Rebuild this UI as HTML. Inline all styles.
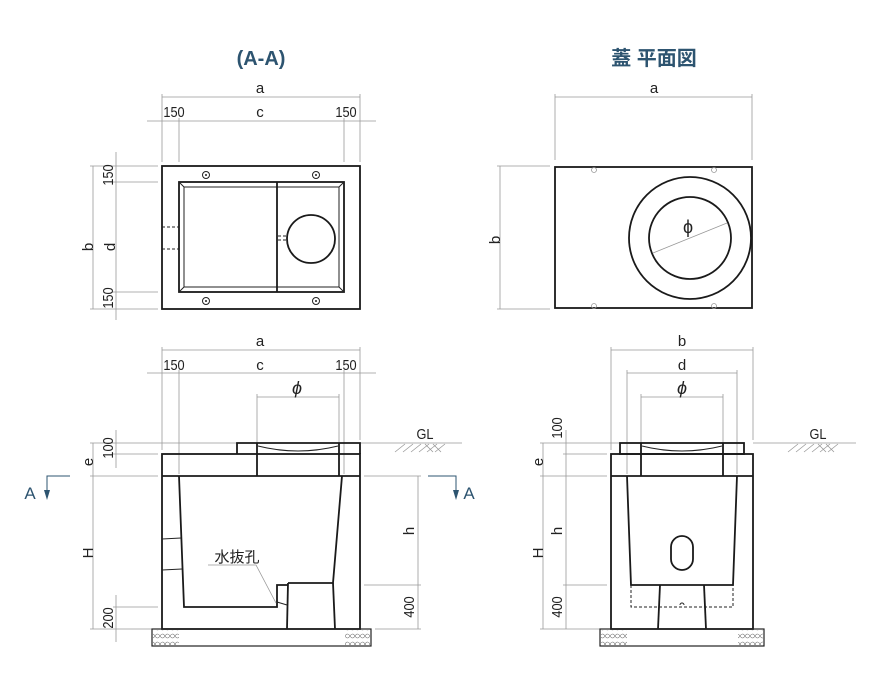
<!DOCTYPE html>
<html><head><meta charset="utf-8"><style>
body{margin:0;background:#fff}
svg{display:block}
text{font-family:"Liberation Sans","Noto Sans CJK JP",sans-serif;fill:#222}
.o{stroke:#1a1a1a;stroke-width:1.8;fill:none}
.t{stroke:#222;stroke-width:1;fill:none}
.d{stroke:#999;stroke-width:0.8;fill:none}
.ds{stroke:#222;stroke-width:1;fill:none;stroke-dasharray:3,2}
.l{font-size:15px}
.ti{font-size:20px;font-weight:bold;fill:#2d5470}
</style></head><body>
<svg width="880" height="680" viewBox="0 0 880 680" xmlns="http://www.w3.org/2000/svg">
<defs>
<pattern id="gr" width="10" height="8" patternUnits="userSpaceOnUse">
<path d="M0 4 Q2.5 0 5 4 Q7.5 8 10 4 M0 4 Q2.5 8 5 4 Q7.5 0 10 4" stroke="#666" stroke-width="0.6" fill="none"/>
</pattern>
</defs>
<text class="ti" x="261" y="65" text-anchor="middle">(A-A)</text>
<text class="ti" x="654" y="65" text-anchor="middle">蓋 平面図</text>

<!-- TOP LEFT -->
<g>
<line class="d" x1="162" y1="97" x2="360" y2="97"/>
<line class="d" x1="147" y1="121" x2="376" y2="121"/>
<line class="d" x1="162" y1="94" x2="162" y2="162"/>
<line class="d" x1="360" y1="94" x2="360" y2="162"/>
<line class="d" x1="179" y1="118" x2="179" y2="162"/>
<line class="d" x1="344" y1="118" x2="344" y2="162"/>
<text class="l" x="260" y="93" text-anchor="middle">a</text>
<text class="l" transform="translate(174,117) scale(0.85,1)" text-anchor="middle">150</text>
<text class="l" x="260" y="117" text-anchor="middle">c</text>
<text class="l" transform="translate(346,117) scale(0.85,1)" text-anchor="middle">150</text>
<line class="d" x1="93" y1="166" x2="93" y2="309"/>
<line class="d" x1="116" y1="152" x2="116" y2="320"/>
<line class="d" x1="90" y1="166" x2="158" y2="166"/>
<line class="d" x1="90" y1="309" x2="158" y2="309"/>
<line class="d" x1="113" y1="182" x2="158" y2="182"/>
<line class="d" x1="113" y1="292" x2="158" y2="292"/>
<text class="l" transform="translate(93,247) rotate(-90)" text-anchor="middle">b</text>
<text class="l" transform="translate(115,247) rotate(-90)" text-anchor="middle">d</text>
<text class="l" transform="translate(113,175) rotate(-90) scale(0.85,1)" text-anchor="middle">150</text>
<text class="l" transform="translate(113,298) rotate(-90) scale(0.85,1)" text-anchor="middle">150</text>
<rect class="o" x="162" y="166" width="198" height="143"/>
<rect class="o" x="179" y="182" width="165" height="110"/>
<rect class="t" x="184" y="187" width="155" height="100"/>
<line class="t" x1="179" y1="182" x2="184" y2="187"/><line class="t" x1="344" y1="182" x2="339" y2="187"/>
<line class="t" x1="179" y1="292" x2="184" y2="287"/><line class="t" x1="344" y1="292" x2="339" y2="287"/>
<line class="o" x1="277" y1="182" x2="277" y2="292" stroke-width="2"/>
<circle class="o" cx="311" cy="239" r="24"/>
<line class="ds" x1="162" y1="227" x2="179" y2="227"/><line class="ds" x1="162" y1="249" x2="179" y2="249"/>
<line class="ds" x1="278" y1="236" x2="287" y2="236"/><line class="ds" x1="278" y1="240" x2="287" y2="240"/>
<g class="t"><circle cx="206" cy="175" r="3.5"/><circle cx="316" cy="175" r="3.5"/><circle cx="206" cy="301" r="3.5"/><circle cx="316" cy="301" r="3.5"/></g>
<g fill="#222"><circle cx="206" cy="175" r="1"/><circle cx="316" cy="175" r="1"/><circle cx="206" cy="301" r="1"/><circle cx="316" cy="301" r="1"/></g>
</g>

<!-- TOP RIGHT -->
<g>
<line class="d" x1="555" y1="97" x2="752" y2="97"/>
<line class="d" x1="555" y1="94" x2="555" y2="160"/>
<line class="d" x1="752" y1="94" x2="752" y2="160"/>
<text class="l" x="654" y="93" text-anchor="middle">a</text>
<line class="d" x1="500" y1="166" x2="500" y2="309"/>
<line class="d" x1="497" y1="166" x2="550" y2="166"/>
<line class="d" x1="497" y1="309" x2="550" y2="309"/>
<text class="l" transform="translate(500,240) rotate(-90)" text-anchor="middle">b</text>
<rect class="o" x="555" y="167" width="197" height="141"/>
<circle class="o" cx="690" cy="238" r="61"/>
<circle class="o" cx="690" cy="238" r="41"/>
<line class="d" x1="653" y1="253" x2="727" y2="223"/>
<text x="688" y="233" text-anchor="middle" style="font-size:18px">ϕ</text>
<g class="d"><circle cx="594" cy="170" r="2.5"/><circle cx="714" cy="170" r="2.5"/><circle cx="594" cy="306" r="2.5"/><circle cx="714" cy="306" r="2.5"/></g>
</g>

<!-- BOTTOM LEFT -->
<g>
<line class="d" x1="162" y1="350" x2="360" y2="350"/>
<line class="d" x1="147" y1="373" x2="376" y2="373"/>
<line class="d" x1="257" y1="397" x2="339" y2="397"/>
<line class="d" x1="162" y1="347" x2="162" y2="450"/>
<line class="d" x1="360" y1="347" x2="360" y2="440"/>
<line class="d" x1="179" y1="370" x2="179" y2="474"/>
<line class="d" x1="344" y1="370" x2="344" y2="474"/>
<line class="d" x1="257" y1="394" x2="257" y2="443"/>
<line class="d" x1="339" y1="394" x2="339" y2="443"/>
<text class="l" x="260" y="346" text-anchor="middle">a</text>
<text class="l" transform="translate(174,370) scale(0.85,1)" text-anchor="middle">150</text>
<text class="l" x="260" y="370" text-anchor="middle">c</text>
<text class="l" transform="translate(346,370) scale(0.85,1)" text-anchor="middle">150</text>
<text x="297" y="394" text-anchor="middle" style="font-size:18px;font-style:italic">ϕ</text>
<line class="d" x1="93" y1="443" x2="93" y2="629"/>
<line class="d" x1="116" y1="430" x2="116" y2="468"/>
<line class="d" x1="116" y1="595" x2="116" y2="642"/>
<line class="d" x1="90" y1="443" x2="237" y2="443"/>
<line class="d" x1="90" y1="476" x2="158" y2="476"/>
<line class="d" x1="113" y1="454" x2="158" y2="454"/>
<line class="d" x1="113" y1="607" x2="158" y2="607"/>
<line class="d" x1="90" y1="629" x2="158" y2="629"/>
<text class="l" transform="translate(93,462) rotate(-90)" text-anchor="middle">e</text>
<text class="l" transform="translate(93,553) rotate(-90)" text-anchor="middle">H</text>
<text class="l" transform="translate(113,448) rotate(-90) scale(0.85,1)" text-anchor="middle">100</text>
<text class="l" transform="translate(113,618) rotate(-90) scale(0.85,1)" text-anchor="middle">200</text>
<line class="d" x1="418" y1="476" x2="418" y2="629"/>
<line class="d" x1="364" y1="476" x2="421" y2="476"/>
<line class="d" x1="364" y1="585" x2="421" y2="585"/>
<line class="d" x1="375" y1="629" x2="421" y2="629"/>
<text class="l" transform="translate(414,531) rotate(-90)" text-anchor="middle">h</text>
<text class="l" transform="translate(414,607) rotate(-90) scale(0.85,1)" text-anchor="middle">400</text>
<line class="d" x1="360" y1="443" x2="462" y2="443"/>
<path class="d" d="M395 452 L405 444 M403 452 L413 444 M411 452 L421 444 M419 452 L429 444 M425 444 L433 452 M433 444 L441 452 M427 452 L437 444 M435 452 L445 444"/>
<text class="l" transform="translate(425,439) scale(0.85,1)" text-anchor="middle">GL</text>
<path class="o" d="M237 454 V443 H360 V454"/>
<rect class="o" x="162" y="454" width="198" height="175"/>
<line class="o" x1="162" y1="476" x2="360" y2="476"/>
<line class="o" x1="257" y1="443" x2="257" y2="476"/>
<line class="o" x1="339" y1="443" x2="339" y2="476"/>
<path class="t" d="M258 446 Q298 456 338 446"/>
<path class="o" d="M179 476 L184 607 H277 V585 H288 M288 583 H333 L342 476"/>
<line class="o" x1="288" y1="583" x2="287" y2="629"/>
<line class="o" x1="333" y1="583" x2="335" y2="629"/>
<line class="t" x1="277" y1="602" x2="287" y2="605"/>
<line class="t" x1="162" y1="539" x2="181" y2="538"/>
<line class="t" x1="162" y1="570" x2="182" y2="569"/>
<rect x="152" y="629" width="219" height="17" fill="none" stroke="#222" stroke-width="1.2"/>
<rect x="153" y="630" width="26" height="15" fill="url(#gr)"/>
<rect x="345" y="630" width="25" height="15" fill="url(#gr)"/>
<text x="237" y="562" text-anchor="middle" style="font-size:15px">水抜孔</text>
<path class="d" d="M208 565 H256 L276 603"/>
<text x="30" y="499" text-anchor="middle" style="font-size:17px;fill:#2d5470">A</text>
<path d="M70 476 H47 V490" stroke="#2d5470" stroke-width="1" fill="none"/>
<path d="M44 490 L50 490 L47 500 Z" fill="#2d5470"/>
<path d="M428 476 H456 V490" stroke="#2d5470" stroke-width="1" fill="none"/>
<path d="M453 490 L459 490 L456 500 Z" fill="#2d5470"/>
<text x="469" y="499" text-anchor="middle" style="font-size:17px;fill:#2d5470">A</text>
</g>

<!-- BOTTOM RIGHT -->
<g>
<line class="d" x1="611" y1="350" x2="753" y2="350"/>
<line class="d" x1="627" y1="373" x2="737" y2="373"/>
<line class="d" x1="641" y1="397" x2="723" y2="397"/>
<line class="d" x1="611" y1="347" x2="611" y2="450"/>
<line class="d" x1="753" y1="347" x2="753" y2="440"/>
<line class="d" x1="627" y1="370" x2="627" y2="474"/>
<line class="d" x1="737" y1="370" x2="737" y2="474"/>
<line class="d" x1="641" y1="394" x2="641" y2="443"/>
<line class="d" x1="723" y1="394" x2="723" y2="443"/>
<text class="l" x="682" y="346" text-anchor="middle">b</text>
<text class="l" x="682" y="370" text-anchor="middle">d</text>
<text x="682" y="394" text-anchor="middle" style="font-size:18px;font-style:italic">ϕ</text>
<line class="d" x1="543" y1="443" x2="543" y2="629"/>
<line class="d" x1="566" y1="430" x2="566" y2="629"/>
<line class="d" x1="540" y1="443" x2="620" y2="443"/>
<line class="d" x1="540" y1="476" x2="607" y2="476"/>
<line class="d" x1="563" y1="454" x2="607" y2="454"/>
<line class="d" x1="563" y1="585" x2="607" y2="585"/>
<line class="d" x1="540" y1="629" x2="600" y2="629"/>
<text class="l" transform="translate(543,462) rotate(-90)" text-anchor="middle">e</text>
<text class="l" transform="translate(543,553) rotate(-90)" text-anchor="middle">H</text>
<text class="l" transform="translate(562,428) rotate(-90) scale(0.85,1)" text-anchor="middle">100</text>
<text class="l" transform="translate(562,531) rotate(-90)" text-anchor="middle">h</text>
<text class="l" transform="translate(562,607) rotate(-90) scale(0.85,1)" text-anchor="middle">400</text>
<line class="d" x1="753" y1="443" x2="856" y2="443"/>
<path class="d" d="M788 452 L798 444 M796 452 L806 444 M804 452 L814 444 M812 452 L822 444 M818 444 L826 452 M826 444 L834 452 M820 452 L830 444 M828 452 L838 444"/>
<text class="l" transform="translate(818,439) scale(0.85,1)" text-anchor="middle">GL</text>
<rect class="o" x="620" y="443" width="124" height="11"/>
<rect class="o" x="611" y="454" width="142" height="175"/>
<line class="o" x1="611" y1="476" x2="753" y2="476"/>
<line class="o" x1="641" y1="443" x2="641" y2="476"/>
<line class="o" x1="723" y1="443" x2="723" y2="476"/>
<path class="t" d="M642 446 Q682 456 722 446"/>
<path class="o" d="M627 476 L631 585 H733 L737 476"/>
<path class="ds" d="M631 585 V607 H733 V585"/>
<line class="o" x1="660" y1="585" x2="658" y2="629"/>
<line class="o" x1="704" y1="585" x2="706" y2="629"/>
<rect class="o" x="671" y="536" width="22" height="34" rx="11"/>
<path class="t" d="M680 605 a2 2 0 0 1 4 0"/>
<rect x="600" y="629" width="164" height="17" fill="none" stroke="#222" stroke-width="1.2"/>
<rect x="601" y="630" width="26" height="15" fill="url(#gr)"/>
<rect x="738" y="630" width="25" height="15" fill="url(#gr)"/>
</g>
</svg>
</body></html>
